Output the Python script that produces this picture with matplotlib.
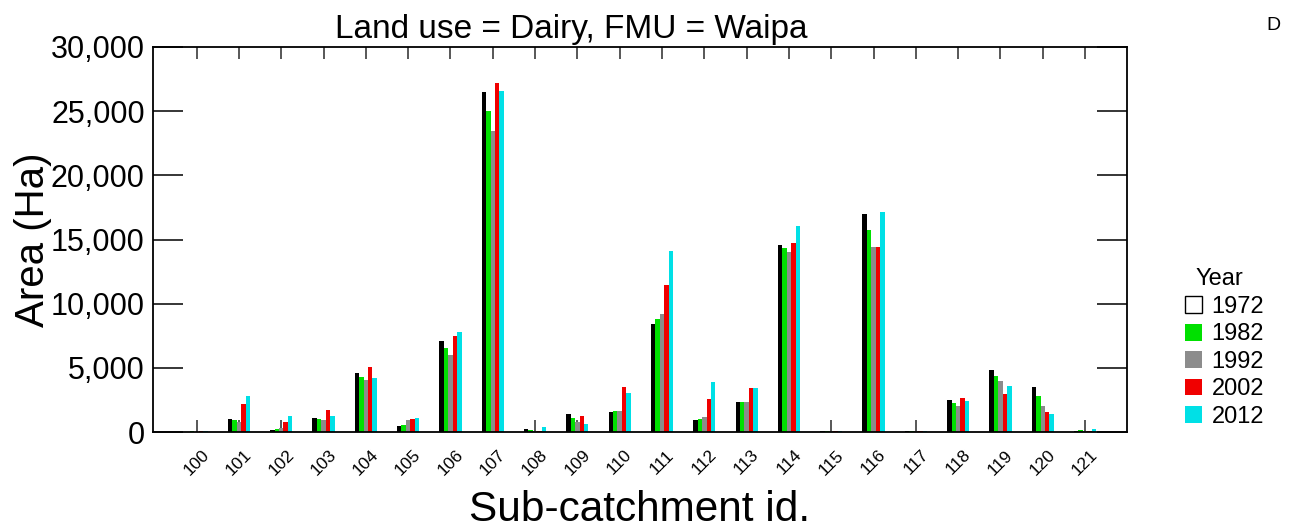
import matplotlib
matplotlib.use('Agg')
import matplotlib.pyplot as plt
from matplotlib.patches import Patch
from matplotlib.ticker import FuncFormatter
import numpy as np

plt.rcParams['font.family'] = ['Liberation Sans', 'DejaVu Sans']

catchments = [str(c) for c in range(100, 122)]
years = ['1972', '1982', '1992', '2002', '2012']

# area (Ha) per sub-catchment, one list per year
area_1972 = [10, 1040, 150, 1110, 4580, 470, 7070, 26520, 210, 1420, 1530,
             8420, 960, 2300, 14560, 60, 16990, 50, 2460, 4840, 3470, 70]
area_1982 = [40, 900, 260, 1010, 4300, 540, 6550, 24990, 150, 1090, 1600,
             8800, 1040, 2300, 14300, 80, 15720, 80, 2250, 4380, 2770, 130]
area_1992 = [20, 780, 340, 960, 4020, 900, 6010, 23490, 80, 780, 1630,
             9220, 1140, 2300, 14060, 60, 14450, 60, 2050, 3940, 2050, 60]
area_2002 = [50, 2200, 780, 1680, 5100, 1040, 7510, 27170, 50, 1220, 3520,
             11450, 2560, 3420, 14760, 80, 14400, 80, 2640, 2930, 1530, 50]
area_2012 = [40, 2770, 1220, 1220, 4170, 1110, 7800, 26550, 360, 650, 3060,
             14120, 3910, 3420, 16030, 60, 17170, 70, 2380, 3570, 1400, 260]

series = [area_1972, area_1982, area_1992, area_2002, area_2012]
colors = ['#000000', '#00e000', '#8c8c8c', '#f00000', '#00e0e6']

W, H = 1293, 531
fig = plt.figure(figsize=(W / 100, H / 100), dpi=100)
ax = fig.add_axes([153 / W, 99 / H, 974 / W, 385 / H])

x = np.arange(len(catchments))
w = 0.105
for i, (vals, col) in enumerate(zip(series, colors)):
    ax.bar(x + (i - 2) * w, vals, width=w, color=col, linewidth=0, zorder=3)

ax.set_xlim(-1.03, len(catchments) - 0.01)
ax.set_ylim(0, 30000)
ax.set_yticks(range(0, 30001, 5000))
ax.yaxis.set_major_formatter(FuncFormatter(lambda v, p: f'{int(v):,}'))
ax.set_xticks(x)
ax.set_xticklabels(catchments, rotation=45, ha='center', fontsize=12.5)

ax.tick_params(axis='y', direction='in', length=21.5, width=1.1, left=True,
               right=True, labelsize=22, pad=6)
ax.tick_params(axis='x', direction='in', length=8.5, width=1.1, top=True,
               bottom=True, pad=11, color='#2a2a2a')
for s in ax.spines.values():
    s.set_linewidth(1.3)
    s.set_zorder(4)

ax.set_xlabel('Sub-catchment id.', fontsize=30.5)
ax.xaxis.label.set_va('baseline')
ax.xaxis.set_label_coords(0.5, (432 - 521) / 385)
ax.set_ylabel('Area (Ha)', fontsize=29)
ax.yaxis.label.set_va('baseline')
ax.yaxis.set_label_coords((44 - 153) / 974, (432 - 240) / 385)

fig.text(571 / W, 1 - 38 / H, 'Land use = Dairy, FMU = Waipa',
         fontsize=24, ha='center', va='baseline')
fig.text(1273 / W, 1 - 25 / H, 'D', fontsize=14, ha='center', va='center')

# legend, title placed by hand
fig.text(1196 / W, 1 - 285 / H, 'Year', fontsize=17, ha='left', va='baseline')
handles = [Patch(facecolor='white', edgecolor='black', linewidth=1)]
handles += [Patch(facecolor=c, edgecolor='none') for c in colors[1:]]
fig.legend(handles, years, loc='upper left',
           bbox_to_anchor=(1185 / W, 1 - 296 / H), frameon=False,
           fontsize=17, handlelength=0.72, handleheight=0.72,
           handletextpad=0.4, labelspacing=0.23, borderpad=0,
           borderaxespad=0)

fig.savefig('out.png', dpi=100)
